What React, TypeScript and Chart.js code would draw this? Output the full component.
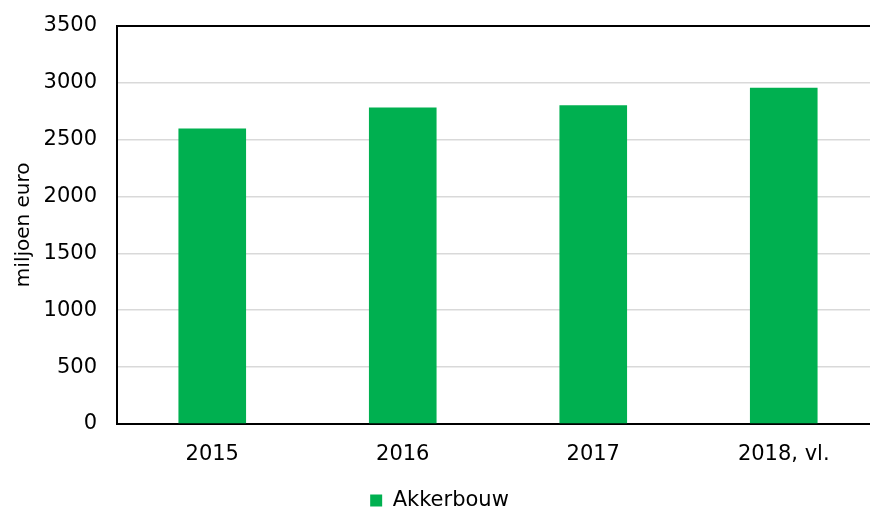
import React, { useEffect, useRef } from "react";
import { Chart, registerables } from "chart.js";

Chart.register(...registerables);

const categories = ["2015", "2016", "2017", "2018, vl."];
const akkerbouw = [2595, 2780, 2800, 2955];
const seriesName = "Akkerbouw";
const yTitle = "miljoen euro";

const FONT = "'DejaVu Sans', Verdana, sans-serif";

export default function App() {
  const ref = useRef<HTMLCanvasElement | null>(null);
  useEffect(() => {
    if (!ref.current) return;
    const chart = new Chart(ref.current, {
      type: "bar",
      data: {
        labels: categories,
        datasets: [
          {
            label: seriesName,
            data: akkerbouw,
            backgroundColor: "#00B050",
            borderWidth: 0,
            categoryPercentage: 1,
            barPercentage: 0.355,
          },
        ],
      },
      options: {
        animation: false,
        responsive: true,
        maintainAspectRatio: false,
        layout: { padding: { top: 17, right: 0, left: 0, bottom: -8 } },
        plugins: {
          legend: {
            position: "bottom",
            labels: {
              boxWidth: 12,
              boxHeight: 12,
              color: "#000",
              font: { family: FONT, size: 21 },
              padding: 3,
            },
          },
          tooltip: { enabled: false },
        },
        scales: {
          x: {
            grid: { display: false },
            border: { display: true, color: "#000", width: 2 },
            ticks: {
              color: "#000",
              font: { family: FONT, size: 21 },
              padding: 10,
              maxRotation: 0,
            },
            afterFit: (s: any) => {
              s.height = 63;
            },
          },
          y: {
            min: 0,
            max: 3500,
            ticks: {
              stepSize: 500,
              color: "#000",
              font: { family: FONT, size: 21 },
              padding: 20,
              callback: (v: any) => String(v),
            },
            grid: {
              drawTicks: false,
              color: (c: any) => (c.tick && c.tick.value === 3500 ? "#000" : "#d9d9d9"),
              lineWidth: (c: any) => (c.tick && c.tick.value === 3500 ? 2 : 1.5),
            },
            border: { display: true, color: "#000", width: 2 },
            title: {
              display: true,
              text: yTitle,
              color: "#000",
              font: { family: FONT, size: 20 },
              padding: { top: 12, bottom: 0 },
            },
            afterFit: (s: any) => {
              s.width = 117;
            },
          },
        },
      },
    });
    return () => chart.destroy();
  }, []);
  return (
    <div
      style={{
        position: "absolute",
        left: 0,
        top: 0,
        width: 870,
        height: 513,
        overflow: "hidden",
        background: "#fff",
      }}
    >
      <div style={{ width: 879, height: 520, position: "absolute", left: 0, top: -7 }}>
        <canvas ref={ref} />
      </div>
    </div>
  );
}
